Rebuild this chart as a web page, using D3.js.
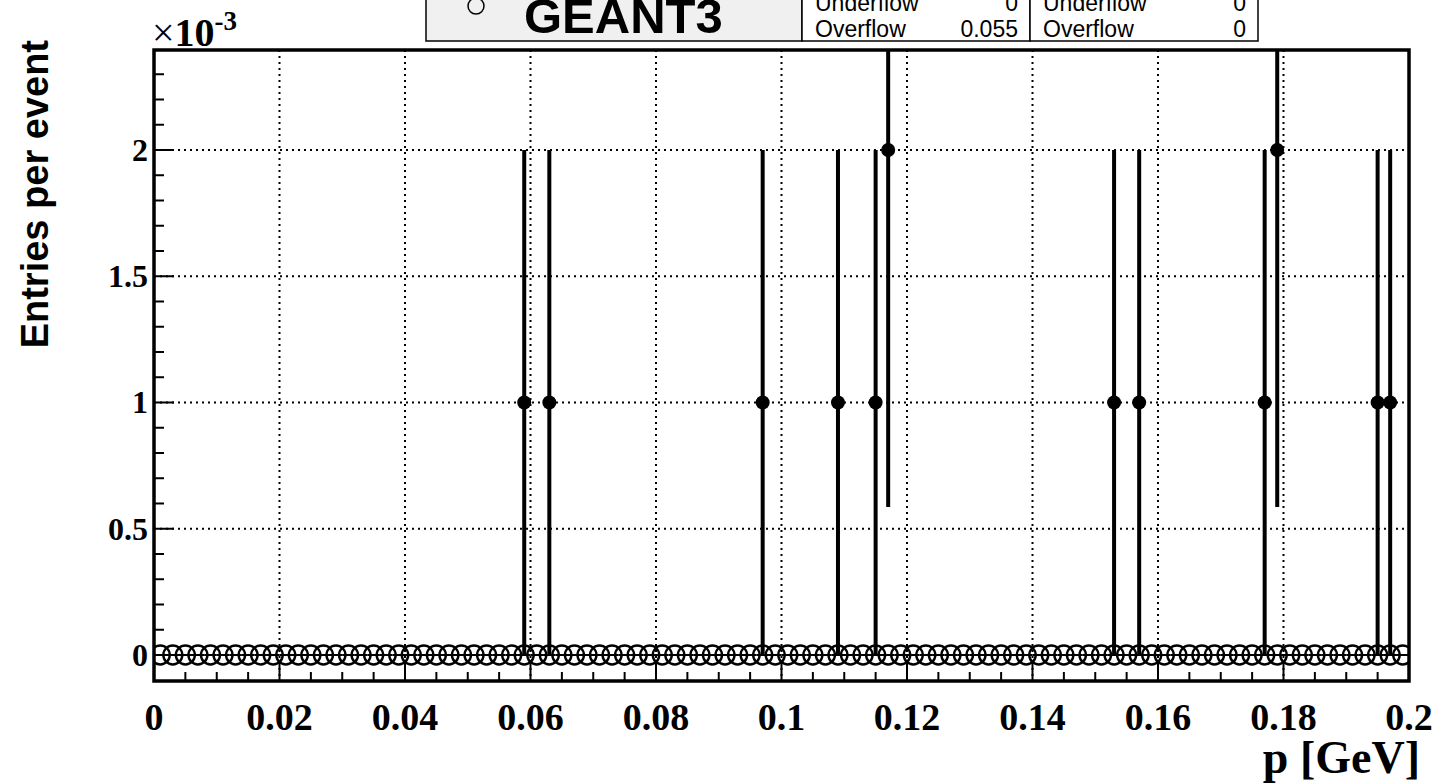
<!DOCTYPE html>
<html>
<head>
<meta charset="utf-8">
<script src="https://cdn.jsdelivr.net/npm/d3@7"></script>
<style>
  body { margin: 0; background: #fff; }
  svg { display: block; }
</style>
</head>
<body>
<svg id="chart" width="1434" height="783"></svg>
<script>
// data (y in units of 1e-3 entries per event)
const binWidth = 0.002;
const nBins = 100;
const g3Values = d3.range(nBins).map(() => 0);   // GEANT3: every bin empty
const dataX = [0.059, 0.063, 0.097, 0.109, 0.115, 0.117, 0.153, 0.157, 0.177, 0.179, 0.195, 0.197];
const dataY = [1, 1, 1, 1, 1, 2, 1, 1, 1, 2, 1, 1];
const dataErr = [1, 1, 1, 1, 1, 1.414, 1, 1, 1, 1.414, 1, 1];
const xTicks = [0, 0.02, 0.04, 0.06, 0.08, 0.1, 0.12, 0.14, 0.16, 0.18, 0.2];
const yTicks = [0, 0.5, 1, 1.5, 2];
const statsLeft = [["Underflow", "0"], ["Overflow", "0.055"]];
const statsRight = [["Underflow", "0"], ["Overflow", "0"]];

const svg = d3.select("#chart");
const frame = { left: 154, right: 1409, top: 50, bottom: 681 };

const x = d3.scaleLinear().domain([0, 0.2]).range([frame.left, frame.right]);
const y = d3.scaleLinear().domain([-0.103, 2.396]).range([frame.bottom, frame.top]);

const serif = "'Liberation Serif', 'Times New Roman', serif";
const sans = "'Liberation Sans', Arial, Helvetica, sans-serif";

// grid
svg.append("g").selectAll("line.gx")
    .data(xTicks.slice(1, -1))
    .join("line")
    .attr("x1", d => x(d)).attr("x2", d => x(d))
    .attr("y1", frame.top).attr("y2", frame.bottom)
    .attr("stroke", "#000").attr("stroke-width", 2).attr("stroke-dasharray", "2,4");
svg.append("g").selectAll("line.gy")
    .data(yTicks)
    .join("line")
    .attr("x1", frame.left).attr("x2", frame.right)
    .attr("y1", d => y(d)).attr("y2", d => y(d))
    .attr("stroke", "#000").attr("stroke-width", 2).attr("stroke-dasharray", "2,4");

// ticks (inside the frame)
const xMinor = d3.range(0, 0.2001, 0.005);
svg.append("g").selectAll("line")
    .data(xMinor)
    .join("line")
    .attr("x1", d => x(d)).attr("x2", d => x(d))
    .attr("y1", frame.bottom)
    .attr("y2", (d, i) => frame.bottom - (i % 4 === 0 ? 18 : 9))
    .attr("stroke", "#000").attr("stroke-width", 2);
const yMinor = d3.range(-0.1, 2.4, 0.1).filter(v => y(v) > frame.top + 2 && y(v) < frame.bottom - 2);
svg.append("g").selectAll("line")
    .data(yMinor)
    .join("line")
    .attr("x1", frame.left)
    .attr("x2", d => frame.left + (Math.abs(d * 2 - Math.round(d * 2)) < 1e-6 ? 20 : 10))
    .attr("y1", d => y(d)).attr("y2", d => y(d))
    .attr("stroke", "#000").attr("stroke-width", 2);

// GEANT3 histogram: horizontal error bars + open circles
svg.append("clipPath").attr("id", "plotClip")
    .append("rect")
    .attr("x", frame.left).attr("y", frame.top)
    .attr("width", frame.right - frame.left).attr("height", frame.bottom - frame.top);

const plot = svg.append("g").attr("clip-path", "url(#plotClip)");

plot.selectAll("line.g3err")
    .data(g3Values)
    .join("line")
    .attr("x1", (d, i) => x(i * binWidth))
    .attr("x2", (d, i) => x((i + 1) * binWidth))
    .attr("y1", d => y(d)).attr("y2", d => y(d))
    .attr("stroke", "#000").attr("stroke-width", 2);
plot.selectAll("circle.g3")
    .data(g3Values)
    .join("circle")
    .attr("cx", (d, i) => x((i + 0.5) * binWidth))
    .attr("cy", d => y(d))
    .attr("r", 9.5)
    .attr("fill", "none")
    .attr("stroke", "#000").attr("stroke-width", 2.4);

// data histogram: vertical error bars + filled markers
plot.selectAll("line.err")
    .data(dataX)
    .join("line")
    .attr("x1", d => x(d)).attr("x2", d => x(d))
    .attr("y1", (d, i) => y(dataY[i] - dataErr[i]))
    .attr("y2", (d, i) => y(dataY[i] + dataErr[i]))
    .attr("stroke", "#000").attr("stroke-width", 4);
plot.selectAll("circle.pt")
    .data(dataX)
    .join("circle")
    .attr("cx", d => x(d))
    .attr("cy", (d, i) => y(dataY[i]))
    .attr("r", 7)
    .attr("fill", "#000");

// frame
svg.append("rect")
    .attr("x", frame.left).attr("y", frame.top)
    .attr("width", frame.right - frame.left).attr("height", frame.bottom - frame.top)
    .attr("fill", "none").attr("stroke", "#000").attr("stroke-width", 3.5);

// tick labels
svg.append("g").selectAll("text")
    .data(xTicks)
    .join("text")
    .attr("x", d => x(d)).attr("y", 730)
    .attr("text-anchor", "middle")
    .attr("font-family", serif).attr("font-weight", "bold").attr("font-size", 38)
    .text(d => d3.format("~g")(d));
svg.append("g").selectAll("text")
    .data(yTicks)
    .join("text")
    .attr("x", 148).attr("y", d => y(d) + 11)
    .attr("text-anchor", "end")
    .attr("font-family", serif).attr("font-weight", "bold").attr("font-size", 32)
    .text(d => d3.format("~g")(d));

// exponent
const expo = svg.append("text")
    .attr("x", 152).attr("y", 46)
    .attr("font-family", serif).attr("font-weight", "bold").attr("font-size", 40);
expo.append("tspan").attr("font-weight", "normal").text("\u00d7");
expo.append("tspan").text("10");
expo.append("tspan").attr("dy", -16).attr("font-size", 27).text("-3");

// axis titles
svg.append("text")
    .attr("x", 1420).attr("y", 773)
    .attr("text-anchor", "end")
    .attr("font-family", serif).attr("font-weight", "bold").attr("font-size", 46)
    .text("p [GeV]");
svg.append("text")
    .attr("transform", "translate(48,40) rotate(-90)")
    .attr("text-anchor", "end")
    .attr("font-family", sans).attr("font-weight", "bold").attr("font-size", 38)
    .text("Entries per event");

// legend box (cut off by the top edge)
svg.append("rect")
    .attr("x", 426).attr("y", -10).attr("width", 376).attr("height", 51)
    .attr("fill", "#f0f0f0").attr("stroke", "#000").attr("stroke-width", 1.5);
svg.append("circle")
    .attr("cx", 476).attr("cy", 6).attr("r", 8)
    .attr("fill", "none").attr("stroke", "#000").attr("stroke-width", 1.5);
svg.append("text")
    .attr("x", 524).attr("y", 33)
    .attr("font-family", sans).attr("font-weight", "bold").attr("font-size", 49)
    .text("GEANT3");

// stats boxes
function statsBox(x0, w, rows) {
    const g = svg.append("g");
    g.append("rect")
        .attr("x", x0).attr("y", -10).attr("width", w).attr("height", 51)
        .attr("fill", "#fff").attr("stroke", "#000").attr("stroke-width", 1.5);
    rows.forEach((r, i) => {
        g.append("text")
            .attr("x", x0 + 13).attr("y", 11 + i * 26)
            .attr("font-family", sans).attr("font-size", 23)
            .text(r[0]);
        g.append("text")
            .attr("x", x0 + w - 12).attr("y", 11 + i * 26)
            .attr("text-anchor", "end")
            .attr("font-family", sans).attr("font-size", 23)
            .text(r[1]);
    });
}
statsBox(802, 228, statsLeft);
statsBox(1030, 228, statsRight);
</script>
</body>
</html>
